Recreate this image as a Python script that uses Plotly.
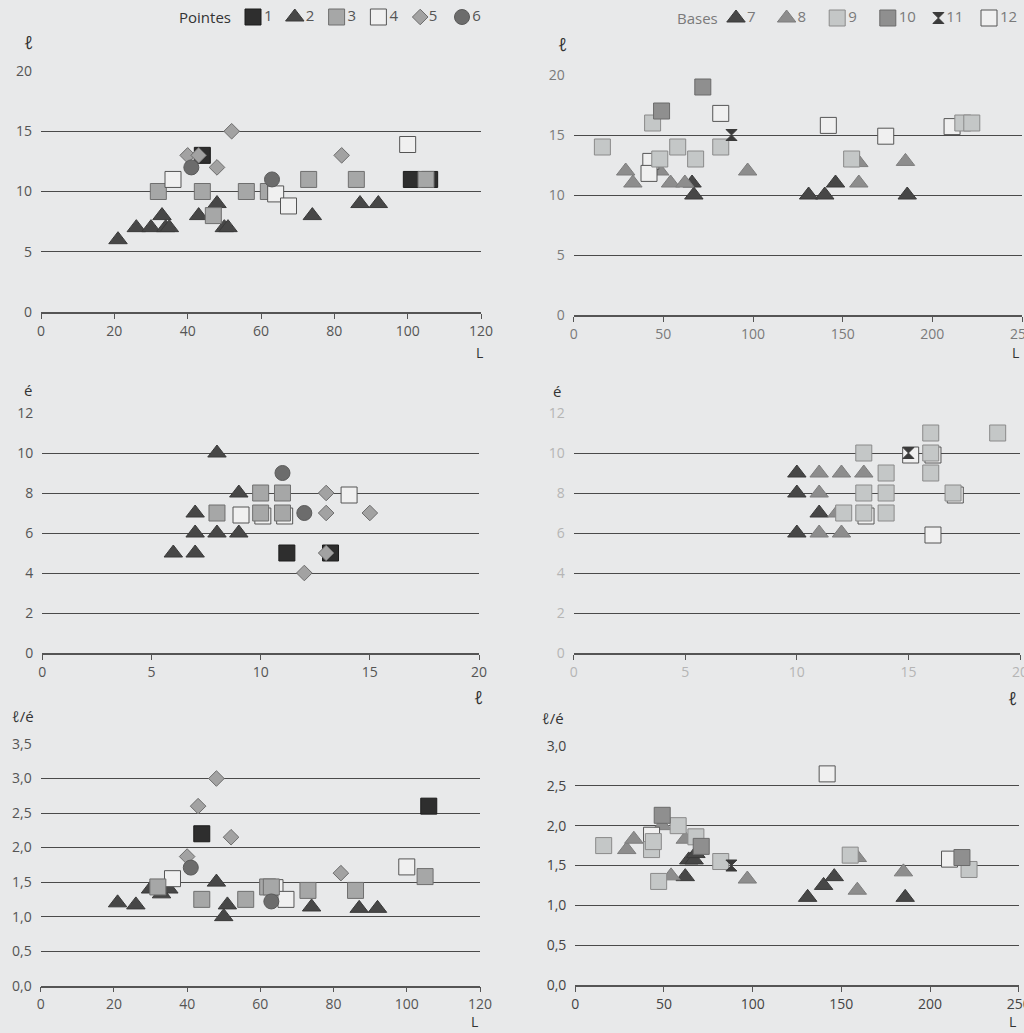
import plotly.graph_objects as go

# ---------------- DATA ----------------
SERIES_POINTES = ["1", "2", "3", "4", "5", "6"]
SERIES_BASES = ["7", "8", "9", "10", "11", "12"]

# Top-left: l vs L (Pointes)
TL_L1 = [44, 101, 106]; TL_l1 = [13, 11, 11]
TL_L2 = [21, 26, 30, 33, 34, 35, 43, 48, 50, 51, 74, 87, 92]
TL_l2 = [6, 7, 7, 8, 7, 7, 8, 9, 7, 7, 8, 9, 9]
TL_L3 = [32, 44, 47, 56, 62, 73, 86, 105]; TL_l3 = [10, 10, 8, 10, 10, 11, 11, 11]
TL_L4 = [36, 64, 67.5, 100]; TL_l4 = [11, 9.8, 8.8, 13.9]
TL_L5 = [40, 43, 48, 52, 82]; TL_l5 = [13, 13, 12, 15, 13]
TL_L6 = [41, 63]; TL_l6 = [12, 11]

# Top-right: l vs L (Bases)
TR_L7 = [66, 67, 131, 140, 146, 186]; TR_l7 = [11, 10, 10, 10, 11, 10]
TR_L8 = [29, 33, 48, 54, 62, 97, 159, 159, 185]; TR_l8 = [12, 11, 12, 11, 11, 12, 12.7, 11, 12.8]
TR_L9 = [16, 44, 48, 58, 68, 82, 155, 217, 222]; TR_l9 = [14, 16, 13, 14, 13, 14, 13, 16, 16]
TR_L10 = [49, 72]; TR_l10 = [17, 19]
TR_L11 = [88]; TR_l11 = [15]
TR_L12 = [43, 42, 82, 142, 174, 211]; TR_l12 = [12.8, 11.8, 16.8, 15.8, 14.9, 15.7]

# Middle-left: é vs l (Pointes)
ML_l1 = [11.2, 13.2]; ML_e1 = [5, 5]
ML_l2 = [8, 9, 7, 7, 8, 9, 6, 7]; ML_e2 = [10, 8, 7, 6, 6, 6, 5, 5]
ML_l4 = [9.1, 10.1, 11.1, 14.05]; ML_e4 = [6.9, 6.85, 6.85, 7.9]
ML_l3 = [8, 10, 11, 10, 11]; ML_e3 = [7, 8, 8, 7, 7]
ML_l5 = [13, 13, 15, 13, 12]; ML_e5 = [8, 7, 7, 5, 4]
ML_l6 = [11, 12]; ML_e6 = [9, 7]

# Middle-right: é vs l (Bases)
MR_l7 = [10, 10, 11, 10]; MR_e7 = [9, 8, 7, 6]
MR_l8 = [11, 12, 13, 11, 11, 12, 11.8]; MR_e8 = [9, 9, 9, 8, 6, 6, 7]
MR_l12 = [13.1, 15.1, 16.1, 17.1, 16.1]; MR_e12 = [6.85, 9.9, 9.9, 7.9, 5.9]
MR_l9 = [13, 14, 13, 14, 12.1, 13, 14, 16, 16, 16, 17, 19]
MR_e9 = [10, 9, 8, 8, 7, 7, 7, 11, 10, 9, 8, 11]
MR_l11 = [15]; MR_e11 = [10]

# Bottom-left: l/é vs L (Pointes)
BL_L1 = [44, 106]; BL_r1 = [2.2, 2.6]
BL_L2 = [21, 26, 30, 33, 35, 48, 50, 51, 74, 87, 92]
BL_r2 = [1.2, 1.17, 1.4, 1.33, 1.4, 1.5, 1.0, 1.17, 1.14, 1.12, 1.12]
BL_L4 = [36, 64, 67, 100]; BL_r4 = [1.55, 1.42, 1.25, 1.72]
BL_L3 = [32, 44, 56, 62, 63, 73, 86, 105]; BL_r3 = [1.43, 1.25, 1.25, 1.43, 1.43, 1.38, 1.38, 1.58]
BL_L5 = [40, 43, 48, 52, 82]; BL_r5 = [1.87, 2.6, 3.0, 2.15, 1.63]
BL_L6 = [41, 63]; BL_r6 = [1.71, 1.22]

# Bottom-right: l/é vs L (Bases)
BR_L7 = [62, 64, 67, 68, 131, 140, 146, 186]; BR_r7 = [1.36, 1.57, 1.57, 1.65, 1.1, 1.25, 1.36, 1.1]
BR_L8 = [29, 33, 49, 54, 62, 97, 159, 159, 185]; BR_r8 = [1.7, 1.83, 2.0, 1.37, 1.83, 1.33, 1.6, 1.19, 1.42]
BR_L12 = [43, 142, 211]; BR_r12 = [1.88, 2.65, 1.58]
BR_L9 = [16, 43, 44, 47, 58, 68, 82, 155, 222]; BR_r9 = [1.75, 1.7, 1.8, 1.3, 2.0, 1.86, 1.55, 1.63, 1.45]
BR_L10 = [49, 71, 218]; BR_r10 = [2.13, 1.74, 1.6]
BR_L11 = [88]; BR_r11 = [1.5]

# ---------------- STYLES ----------------
STYLE = {
    "1": dict(symbol="square", size=16, color="#2e2e2e", line=dict(color="#1c1c1c", width=1)),
    "2": dict(symbol="triangle-up", size=16, color="#474747", line=dict(color="#3a3a3a", width=1)),
    "3": dict(symbol="square", size=16, color="#a6a7a7", line=dict(color="#6f6f6f", width=1)),
    "4": dict(symbol="square", size=16, color="#f0f0f0", line=dict(color="#555555", width=1)),
    "5": dict(symbol="diamond", size=12, color="#a2a2a2", line=dict(color="#6e6e6e", width=1)),
    "6": dict(symbol="circle", size=15, color="#6c6c6c", line=dict(color="#5a5a5a", width=1)),
    "7": dict(symbol="triangle-up", size=16, color="#474747", line=dict(color="#3a3a3a", width=1)),
    "8": dict(symbol="triangle-up", size=16, color="#8d8d8d", line=dict(color="#7d7d7d", width=1)),
    "9": dict(symbol="square", size=16, color="#c4c7c7", line=dict(color="#8a8a8a", width=1)),
    "10": dict(symbol="square", size=16, color="#8f8f8f", line=dict(color="#6a6a6a", width=1)),
    "11": dict(symbol="hourglass", size=11, color="#3a3a3a", line=dict(color="#3a3a3a", width=1)),
    "12": dict(symbol="square", size=16, color="#f0f0f0", line=dict(color="#555555", width=1)),
}

fig = go.Figure()

def add(name, xs, ys, xa, ya):
    st = STYLE[name]
    fig.add_trace(go.Scatter(
        x=xs, y=ys, mode="markers", name=name, xaxis=xa, yaxis=ya,
        showlegend=False, cliponaxis=False,
        marker=dict(symbol=st["symbol"], size=st["size"], color=st["color"], line=st["line"]),
        hoverinfo="skip"))

# Top-left
add("1", TL_L1, TL_l1, "x", "y")
add("2", TL_L2, TL_l2, "x", "y")
add("3", TL_L3, TL_l3, "x", "y")
add("4", TL_L4, TL_l4, "x", "y")
add("5", TL_L5, TL_l5, "x", "y")
add("6", TL_L6, TL_l6, "x", "y")
# Top-right
add("7", TR_L7, TR_l7, "x2", "y2")
add("8", TR_L8, TR_l8, "x2", "y2")
add("12", TR_L12, TR_l12, "x2", "y2")
add("9", TR_L9, TR_l9, "x2", "y2")
add("10", TR_L10, TR_l10, "x2", "y2")
add("11", TR_L11, TR_l11, "x2", "y2")
# Middle-left
add("2", ML_l2, ML_e2, "x3", "y3")
add("1", ML_l1, ML_e1, "x3", "y3")
add("4", ML_l4, ML_e4, "x3", "y3")
add("3", ML_l3, ML_e3, "x3", "y3")
add("5", ML_l5, ML_e5, "x3", "y3")
add("6", ML_l6, ML_e6, "x3", "y3")
# Middle-right
add("7", MR_l7, MR_e7, "x4", "y4")
add("8", MR_l8, MR_e8, "x4", "y4")
add("12", MR_l12, MR_e12, "x4", "y4")
add("9", MR_l9, MR_e9, "x4", "y4")
add("11", MR_l11, MR_e11, "x4", "y4")
# Bottom-left
add("2", BL_L2, BL_r2, "x5", "y5")
add("1", BL_L1, BL_r1, "x5", "y5")
add("4", BL_L4, BL_r4, "x5", "y5")
add("3", BL_L3, BL_r3, "x5", "y5")
add("5", BL_L5, BL_r5, "x5", "y5")
add("6", BL_L6, BL_r6, "x5", "y5")
# Bottom-right
add("7", BR_L7, BR_r7, "x6", "y6")
add("8", BR_L8, BR_r8, "x6", "y6")
add("12", BR_L12, BR_r12, "x6", "y6")
add("9", BR_L9, BR_r9, "x6", "y6")
add("10", BR_L10, BR_r10, "x6", "y6")
add("11", BR_L11, BR_r11, "x6", "y6")

# Legend rows (drawn on their own hidden category axes)
FONT = "Open Sans"

def add_key(names, xa, ya, color):
    for nm in names:
        st = STYLE[nm]
        fig.add_trace(go.Scatter(
            x=[nm], y=[0], mode="markers+text", text=[nm], textposition="middle right",
            textfont=dict(family=FONT, size=15, color=color),
            xaxis=xa, yaxis=ya, showlegend=False, cliponaxis=False, hoverinfo="skip",
            marker=dict(symbol=st["symbol"], size=st["size"], color=st["color"], line=st["line"])))

add_key(SERIES_POINTES, "x7", "y7", "#555555")
add_key(SERIES_BASES, "x8", "y8", "#7a7a7a")

W, H = 1024, 1033
GRID = "#4a4a4a"

def xax(dom, rng, dtick, anchor, col):
    return dict(domain=dom, range=rng, dtick=dtick, tick0=0, anchor=anchor, automargin=False,
                showgrid=False, zeroline=False, showline=True, linecolor="#555555", linewidth=1.5,
                ticks="outside", ticklen=5, tickcolor="#555555", tickwidth=1,
                ticklabeloverflow="allow",
                tickfont=dict(family=FONT, size=14, color=col), fixedrange=True)

def yax(dom, rng, dtick, anchor, col, fmt=None):
    d = dict(domain=dom, range=rng, dtick=dtick, tick0=0, anchor=anchor, automargin=False,
             showgrid=True, gridcolor=GRID, gridwidth=1.3, zeroline=False, showline=False,
             ticks="", ticklabelstandoff=8,
             tickfont=dict(family=FONT, size=14, color=col), fixedrange=True)
    if fmt:
        d["tickformat"] = fmt
    return d

def keyx(dom, names, anchor):
    return dict(domain=dom, type="category", categoryorder="array", categoryarray=names,
                range=[-0.5, len(names) - 0.5], visible=False, anchor=anchor,
                automargin=False, fixedrange=True)

def keyy(dom, anchor):
    return dict(domain=dom, range=[-1, 1], visible=False, anchor=anchor,
                automargin=False, fixedrange=True)

def fx(p):
    return p / W

def fy(p):
    return 1 - p / H

fig.update_layout(
    width=W, height=H, margin=dict(l=0, r=0, t=0, b=0, pad=0), autosize=False,
    paper_bgcolor="#e8e9ea", plot_bgcolor="#e8e9ea",
    separators=",.", showlegend=False,
    font=dict(family=FONT, size=14, color="#555555"),
    xaxis=xax([fx(41), fx(481)], [0, 120], 20, "y", "#555555"),
    yaxis=yax([fy(312), fy(71)], [0, 20], 5, "x", "#555555"),
    xaxis2=xax([fx(573.7), fx(1022)], [0, 250], 50, "y2", "#7a7a7a"),
    yaxis2=yax([fy(315), fy(75)], [0, 20], 5, "x2", "#7a7a7a"),
    xaxis3=xax([fx(42.3), fx(479)], [0, 20], 5, "y3", "#555555"),
    yaxis3=yax([fy(653), fy(413)], [0, 12], 2, "x3", "#555555"),
    xaxis4=xax([fx(573.7), fx(1020)], [0, 20], 5, "y4", "#b5b5b5"),
    yaxis4=yax([fy(653), fy(413)], [0, 12], 2, "x4", "#b5b5b5"),
    xaxis5=xax([fx(40.7), fx(480)], [0, 120], 20, "y5", "#555555"),
    yaxis5=yax([fy(985.7), fy(744)], [0, 3.5], 0.5, "x5", "#555555", ".1f"),
    xaxis6=xax([fx(575.3), fx(1018.7)], [0, 250], 50, "y6", "#444444"),
    yaxis6=yax([fy(985), fy(746)], [0, 3.0], 0.5, "x6", "#444444", ".1f"),
    xaxis7=keyx([fx(232.1), fx(482.9)], SERIES_POINTES, "y7"),
    yaxis7=keyy([fy(27), fy(7)], "x7"),
    xaxis8=keyx([fx(710.7), fx(1014.3)], SERIES_BASES, "y8"),
    yaxis8=keyy([fy(28), fy(8)], "x8"),
)

def label(text, px, py, color="#333333", size=16, anchor="center"):
    fig.add_annotation(text=text, x=fx(px), y=fy(py), xanchor=anchor, yanchor="middle",
                       xref="paper", yref="paper", showarrow=False,
                       font=dict(family=FONT, size=size, color=color))

# legend titles
label("Pointes", 233, 17, color="#333333", size=15, anchor="right")
label("Bases", 720, 18, color="#7a7a7a", size=15, anchor="right")
# axis titles
label("<i>ℓ</i>", 28, 42, size=18)
label("<i>ℓ</i>", 562, 44, size=18)
label("é", 28, 390, size=15)
label("é", 557, 391, size=15)
label("<i>ℓ</i>/é", 23, 716, size=15)
label("<i>ℓ</i>/é", 553, 718, size=15)
label("L", 479, 353, size=14)
label("L", 1015, 353, size=14)
label("<i>ℓ</i>", 478, 697, size=18)
label("<i>ℓ</i>", 1012, 698, size=18)
label("L", 474, 1021, size=14)
label("L", 1012, 1021, size=14)

fig.write_html("out.html", config={"displayModeBar": False, "responsive": False},
               post_script="document.body.style.margin='0';document.body.style.overflow='hidden';")
